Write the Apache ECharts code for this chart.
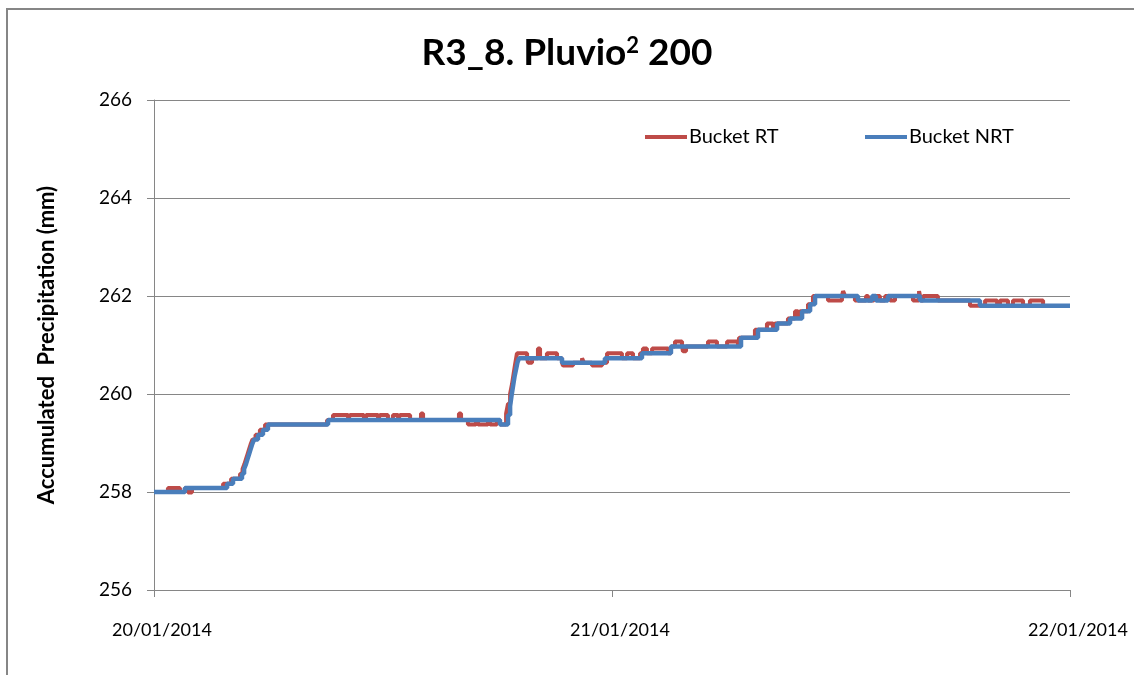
<!DOCTYPE html>
<html>
<head>
<meta charset="utf-8">
<script src="https://cdn.jsdelivr.net/npm/echarts@6/dist/echarts.min.js"></script>
<style>
  html, body { margin: 0; padding: 0; background: #fff; }
  #chart { width: 1134px; height: 675px; }
</style>
</head>
<body>
<div id="chart"></div>
<script>
// hours since 20/01/2014 00:00
var xTickLabels = ["20/01/2014", "21/01/2014", "22/01/2014"];
var yTicks = [256, 258, 260, 262, 264, 266];

// Bucket NRT (blue step line)
var nrtHours = [0, 1.62, 3.83, 4.14, 4.61, 4.72, 4.82, 4.90, 4.98, 5.06, 5.14, 5.24, 5.45, 5.71, 5.97,
  9.12, 18.13, 18.55, 18.66, 18.73, 18.81, 18.89, 18.97, 19.05, 19.13, 21.38, 23.63, 25.57, 27.09,
  30.76, 31.65, 32.65, 33.33, 33.96, 34.38, 34.64, 36.89, 37.63, 37.83, 38.46, 40.14, 43.28, 48];
var nrtValues = [258.0, 258.08, 258.17, 258.27, 258.37, 258.47, 258.57, 258.67, 258.77, 258.87, 258.97, 259.07, 259.17, 259.27, 259.38,
  259.47, 259.38, 259.57, 259.75, 259.95, 260.15, 260.35, 260.5, 260.65, 260.73, 260.64, 260.73, 260.83, 260.97,
  261.15, 261.31, 261.44, 261.54, 261.69, 261.83, 262.0, 261.91, 262.0, 261.91, 262.0, 261.91, 261.8, 261.8];

// Bucket RT (red step line, drawn under the blue one)
var rtHours = [0, 0.73, 1.36, 1.62, 1.78, 1.99, 3.62, 4.04, 4.51, 4.64, 4.74, 4.82, 4.90, 4.98, 5.06, 5.16, 5.32, 5.55, 5.82,
  9.07, 9.38, 10.17, 10.27, 11.00, 11.11, 11.74, 11.84, 12.26, 12.52, 12.79, 12.89, 13.42, 13.99, 14.10,
  15.98, 16.09, 16.45, 16.87, 16.98, 17.50, 17.61, 17.97, 18.13, 18.45, 18.55, 18.66, 18.76, 18.84, 18.92, 19.02,
  19.55, 19.60, 19.81, 20.12, 20.23, 20.59, 21.12, 21.38, 21.43, 21.96, 22.43, 22.53, 22.95, 23.48, 23.74,
  24.52, 24.79, 25.10, 25.47, 25.62, 25.83, 26.10, 26.94, 27.09, 27.30, 27.67, 27.72, 27.88, 29.03, 29.50,
  30.03, 30.60, 30.66, 31.49, 32.12, 32.44, 32.54, 33.22, 33.59, 33.75, 33.85, 34.27, 34.53, 35.32, 36.05,
  36.11, 36.21, 36.73, 37.31, 37.42, 37.73, 38.04, 38.31, 38.57, 38.83, 39.77, 40.09, 40.19, 40.30, 41.08,
  42.76, 43.55, 44.18, 44.33, 44.75, 45.01, 45.54, 45.90, 46.59, 46.69];
var rtValues = [258.0, 258.08, 258.0, 258.08, 257.99, 258.08, 258.17, 258.27, 258.37, 258.47, 258.57, 258.67, 258.77, 258.87, 258.97, 259.07, 259.17, 259.27, 259.38,
  259.47, 259.57, 259.47, 259.57, 259.47, 259.57, 259.47, 259.57, 259.47, 259.57, 259.47, 259.57, 259.47, 259.6, 259.47,
  259.6, 259.47, 259.38, 259.47, 259.38, 259.47, 259.38, 259.47, 259.38, 259.6, 259.8, 260.0, 260.2, 260.4, 260.6, 260.83,
  260.73, 260.64, 260.73, 260.93, 260.73, 260.83, 260.73, 260.64, 260.58, 260.64, 260.73, 260.64, 260.58, 260.64, 260.83,
  260.73, 260.83, 260.73, 260.83, 260.93, 260.83, 260.93, 260.83, 260.97, 261.07, 260.97, 260.87, 260.97, 261.07, 260.97,
  261.07, 260.97, 261.15, 261.31, 261.44, 261.31, 261.44, 261.54, 261.69, 261.54, 261.69, 261.83, 262.0, 261.91, 262.0,
  262.1, 262.0, 261.91, 262.0, 261.91, 262.0, 261.91, 262.0, 261.91, 262.0, 261.91, 262.1, 261.91, 262.0, 261.91,
  261.8, 261.91, 261.8, 261.91, 261.8, 261.91, 261.8, 261.91, 261.8, 261.8];

function zip(xs, ys) {
  return xs.map((x, i) => [x, ys[i]]);
}

var FONT = "Lato";
var GRID_COLOR = "#868686";

var chart = echarts.init(document.getElementById("chart"), null, { renderer: "canvas" });

function legendFor(name, left) {
  return {
    data: [name],
    left: left,
    top: 122,
    icon: "rect",
    itemWidth: 42,
    itemHeight: 4,
    itemGap: 0,
    textStyle: { fontFamily: FONT, fontSize: 20, color: "#000", padding: [0, 0, 0, -3] },
  };
}

var option = {
  backgroundColor: "#ffffff",
  animation: false,
  graphic: [
    {
      // chart frame, only the left and top edges are visible
      type: "polyline",
      shape: { points: [[7, 700], [7, 9], [1200, 9]] },
      style: { fill: null, stroke: GRID_COLOR, lineWidth: 2 },
      silent: true,
    },
  ],
  title: {
    left: "center",
    top: 30,
    text: "{a|R3_8. Pluvio}{s|2}{a| 200}",
    textStyle: {
      rich: {
        a: { fontFamily: FONT, fontWeight: "bold", fontSize: 37, color: "#000" },
        s: { fontFamily: FONT, fontWeight: "bold", fontSize: 22, color: "#000", verticalAlign: "top", padding: [0, 0, 14, 0] },
      },
    },
  },
  legend: [legendFor("Bucket RT", 640), legendFor("Bucket NRT", 860)],
  grid: {
    left: 154,
    right: 64,
    top: 100,
    bottom: 85,
  },
  xAxis: {
    type: "value",
    min: 0,
    max: 48,
    interval: 24,
    axisLine: { show: true, lineStyle: { color: GRID_COLOR, width: 1 } },
    axisTick: { show: true, length: 7, lineStyle: { color: GRID_COLOR } },
    splitLine: { show: false },
    axisLabel: {
      margin: 31,
      fontFamily: FONT,
      fontSize: 18,
      color: "#000",
      showMaxLabel: true,
      padding: [0, 0, 0, 16],
      formatter: (v) => xTickLabels[Math.round(v / 24)],
    },
  },
  yAxis: {
    type: "value",
    min: yTicks[0],
    max: yTicks[yTicks.length - 1],
    interval: 2,
    name: "Accumulated  Precipitation (mm)",
    nameLocation: "middle",
    nameRotate: 90,
    nameGap: 96,
    nameTextStyle: { fontFamily: FONT, fontWeight: "bold", fontSize: 22, color: "#000" },
    axisLine: { show: true, lineStyle: { color: GRID_COLOR, width: 1 } },
    axisTick: { show: true, length: 7, lineStyle: { color: GRID_COLOR } },
    splitLine: { show: true, lineStyle: { color: GRID_COLOR, width: 1 } },
    axisLabel: {
      margin: 22,
      fontFamily: FONT,
      fontSize: 19,
      color: "#000",
      formatter: (v) => String(v),
    },
  },
  series: [
    {
      name: "Bucket RT",
      type: "line",
      step: "end",
      symbol: "none",
      data: zip(rtHours, rtValues),
      lineStyle: { color: "#BE4B48", width: 4 },
      itemStyle: { color: "#BE4B48" },
      z: 2,
    },
    {
      name: "Bucket NRT",
      type: "line",
      step: "end",
      symbol: "none",
      data: zip(nrtHours, nrtValues),
      lineStyle: { color: "#4A7EBB", width: 4.5 },
      itemStyle: { color: "#4A7EBB" },
      z: 3,
    },
  ],
};

chart.setOption(option);
</script>
</body>
</html>
